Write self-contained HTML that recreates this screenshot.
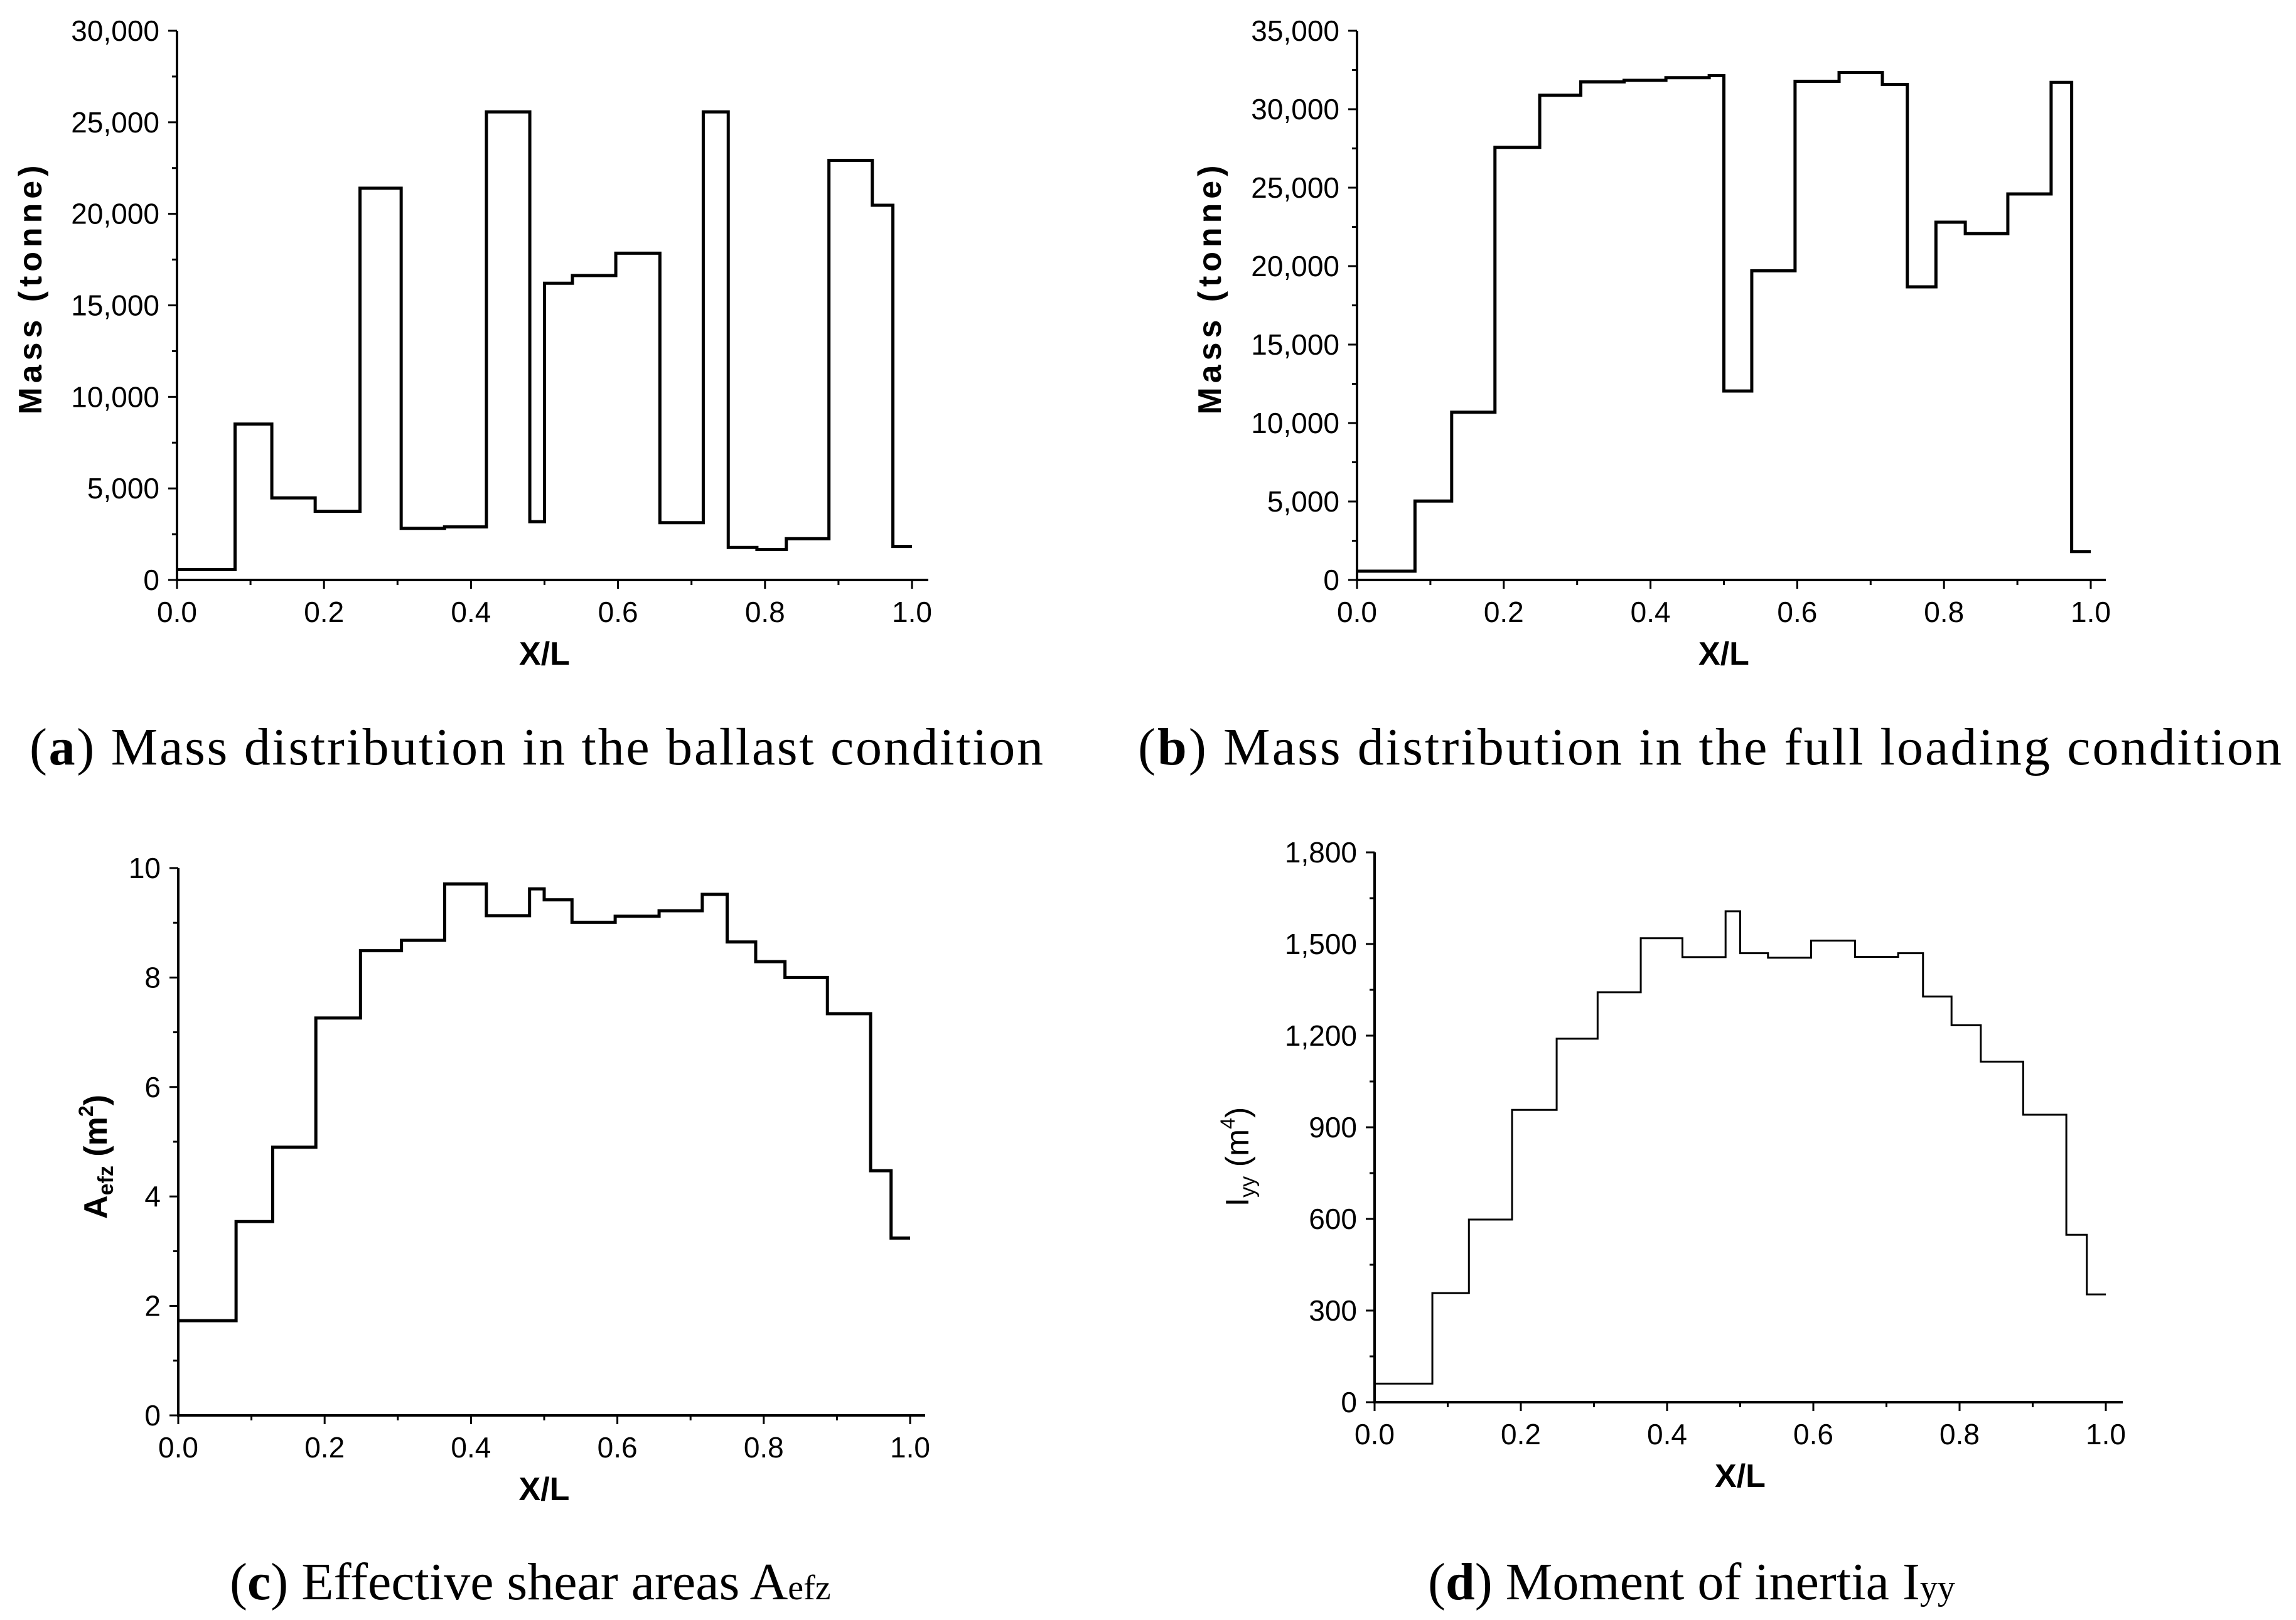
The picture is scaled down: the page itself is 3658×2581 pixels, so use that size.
<!DOCTYPE html>
<html><head><meta charset="utf-8"><style>
html,body{margin:0;padding:0;background:#fff;}
svg{display:block;}
.tk{font-family:"Liberation Sans",Arial,sans-serif;font-size:46px;fill:#000;}
.tt{font-family:"Liberation Sans",Arial,sans-serif;font-weight:bold;font-size:52px;fill:#000;}
.cap{font-family:"Liberation Serif",serif;font-size:84px;fill:#000;}
</style></head><body>
<svg id="fig" width="3658" height="2581" viewBox="0 0 3658 2581" xmlns="http://www.w3.org/2000/svg">
<rect width="3658" height="2581" fill="#fff"/>
<g id="layer"></g>
<text class="tt" x="0" y="0" transform="translate(66,462) rotate(-90)" text-anchor="middle" textLength="397">Mass (tonne)</text>
<text class="tt" x="0" y="0" transform="translate(1945,462) rotate(-90)" text-anchor="middle" textLength="397">Mass (tonne)</text>
<text class="tt" x="0" y="0" transform="translate(170,1843) rotate(-90)" text-anchor="middle">A<tspan font-size="34" dy="10">efz</tspan><tspan dy="-10"> (m</tspan><tspan font-size="32" dy="-22">2</tspan><tspan dy="22">)</tspan></text>
<text class="tt" x="0" y="0" transform="translate(1989,1843) rotate(-90)" text-anchor="middle" font-weight="normal" style="font-weight:normal">I<tspan font-size="34" dy="10">yy</tspan><tspan dy="-10"> (m</tspan><tspan font-size="32" dy="-22">4</tspan><tspan dy="22">)</tspan></text>
<text class="cap" x="47" y="1218" textLength="1615">(<tspan font-weight="bold">a</tspan>) Mass distribution in the ballast condition</text>
<text class="cap" x="1813" y="1218" textLength="1822">(<tspan font-weight="bold">b</tspan>) Mass distribution in the full loading condition</text>
<text class="cap" x="366" y="2548">(<tspan font-weight="bold">c</tspan>) Effective shear areas A<tspan font-size="56">efz</tspan></text>
<text class="cap" x="2275" y="2548">(<tspan font-weight="bold">d</tspan>) Moment of inertia I<tspan font-size="56">yy</tspan></text>
</svg>
<script>
const edges=[0,0.079,0.129,0.188,0.249,0.305,0.364,0.421,0.48,0.50,0.538,0.597,0.657,0.716,0.75,0.789,0.829,0.887,0.946,0.974,1.0];
const massBallast=[564,8514,4483,3750,21400,2820,2900,25570,3186,16210,16630,17850,3130,25570,1776,1663,2255,22920,20470,1830];
const massFull=[560,5030,10690,27570,30890,31740,31840,32010,32140,12040,19700,31780,32340,31580,18680,22800,22070,24600,31710,1810];
const shearArea=[1.73,3.54,4.9,7.26,8.49,8.68,9.71,9.13,9.62,9.42,9.01,9.12,9.22,9.52,8.65,8.29,8.0,7.34,4.47,3.24];
const inertia=[61,357,598,957,1190,1342,1519,1457,1607,1470,1455,1511,1458,1470,1328,1234,1115,941,548,353];
const xTicks=[0,0.2,0.4,0.6,0.8,1.0];
const xTickLabels=["0.0","0.2","0.4","0.6","0.8","1.0"];
const yTicksA=[0,5000,10000,15000,20000,25000,30000];
const yTicksB=[0,5000,10000,15000,20000,25000,30000,35000];
const yTicksC=[0,2,4,6,8,10];
const yTicksD=[0,300,600,900,1200,1500,1800];

const NS="http://www.w3.org/2000/svg";
const layer=document.getElementById('layer');
function mk(tag,attrs,parent){const e=document.createElementNS(NS,tag);for(const k in attrs)e.setAttribute(k,attrs[k]);parent.appendChild(e);return e;}

function panel(id,x0,x1,y0,yTop,ymax,axEnd,yTicks,minorStep,fmt,vals,lw){
  const g=mk('g',{},layer);
  
  
  const sx=v=>x0+(x1-x0)*v;
  const sy=v=>y0-(y0-yTop)*v/ymax;
  const ax=mk('path',{d:`M${x0},${yTop}V${y0}H${axEnd}`,stroke:'#000','stroke-width':4,fill:'none'},g);
  
  
  for(let v=0;v<=ymax+1e-9;v+=minorStep){
    const major=yTicks.some(t=>Math.abs(t-v)<1e-9);
    mk('line',{x1:x0-(major?14:8),x2:x0,y1:sy(v),y2:sy(v),stroke:'#000','stroke-width':3},g);
  }
  yTicks.forEach(t=>{
    const tx=mk('text',{class:'tk',x:x0-28,y:sy(t)+16,'text-anchor':'end'},g);
    
    
    tx.textContent=fmt(t);
  });
  for(let i=0;i<=10;i++){
    const v=i/10;const major=i%2===0;
    mk('line',{x1:sx(v),x2:sx(v),y1:y0,y2:y0+(major?14:8),stroke:'#000','stroke-width':3},g);
  }
  xTicks.forEach((t,i)=>{
    const tx=mk('text',{class:'tk',x:sx(t),y:y0+67,'text-anchor':'middle'},g);
    
    
    tx.textContent=xTickLabels[i];
  });
  const xt=mk('text',{class:'tt',x:(x0+x1)/2,y:y0+135,'text-anchor':'middle'},g);
  
  
  xt.textContent='X/L';
  let d='';
  vals.forEach((v,i)=>{
    d+=(i===0?`M${sx(edges[0])},${sy(v)}`:`V${sy(v)}`)+`H${sx(edges[i+1])}`;
  });
  const ln=mk('path',{d:d,stroke:'#000','stroke-width':lw,fill:'none','stroke-linejoin':'miter'},g);
  
  
}
const comma=v=>v.toLocaleString('en-US');
panel('a',282,1453,924,49,30000,1479,yTicksA,2500,comma,massBallast,5);
panel('b',2162,3331,924,49,35000,3355,yTicksB,2500,comma,massFull,5);
panel('c',284,1450,2255,1383,10,1474,yTicksC,1,v=>String(v),shearArea,5);
panel('d',2190,3355,2234,1358,1800,3382,yTicksD,150,comma,inertia,3);
</script>
</body></html>
